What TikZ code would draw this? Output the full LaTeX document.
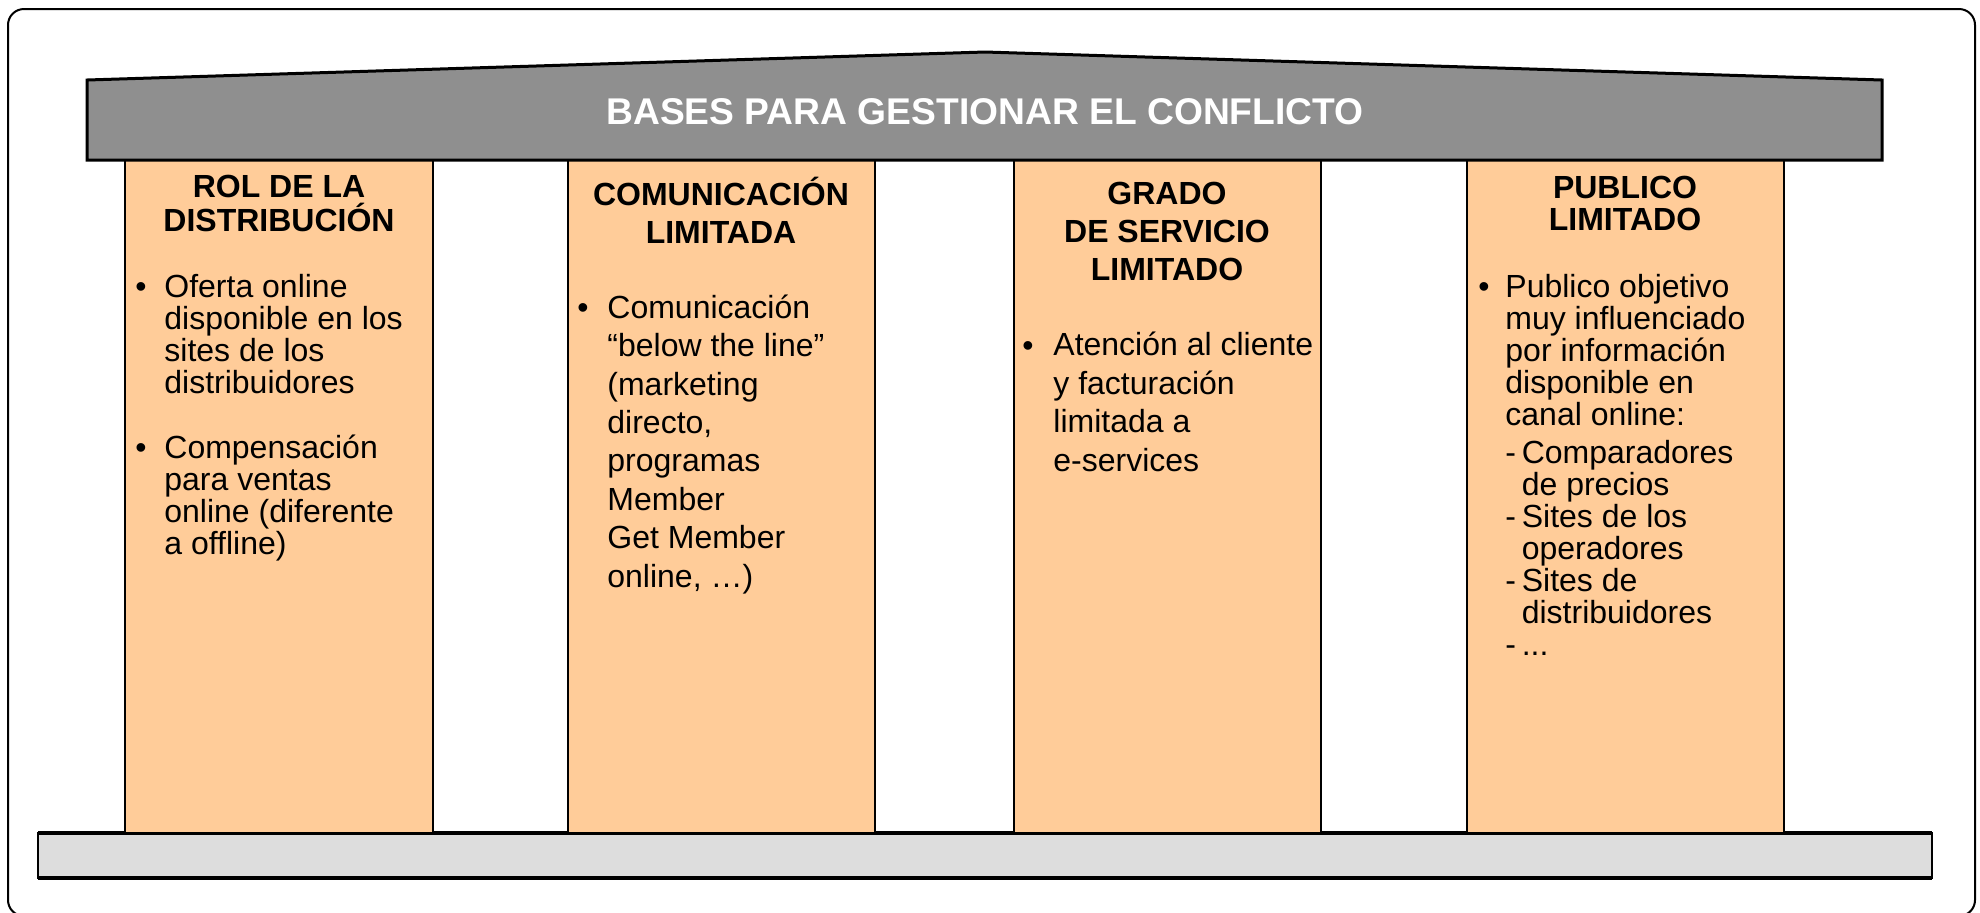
\documentclass[tikz,border=0pt]{standalone}
\usepackage{fontspec}
\setmainfont{Liberation Sans}

\definecolor{dach}{RGB}{143,143,143}
\definecolor{saeule}{RGB}{255,204,153}
\definecolor{sockel}{RGB}{221,221,221}

\newcommand{\strich}{\makebox[8.2pt][l]{-}}

\begin{document}
\begin{tikzpicture}[x=0.5pt,y=-0.5pt]
	\tikzset{pillar/.style = {draw, line width=1pt, fill=saeule}}
	\tikzset{titel/.style = {anchor=base, align=center, inner sep=0pt, font=\bfseries\fontsize{16}{17}\selectfont}}
	\tikzset{punkt/.style = {anchor=base west, inner sep=0pt, font=\fontsize{16}{16}\selectfont}}
	\tikzset{txt/.style = {anchor=base west, align=left, inner sep=0pt, font=\fontsize{16}{16}\selectfont}}
	\tikzset{txtweit/.style = {txt, font=\fontsize{16}{19.2}\selectfont}}
	
	\useasboundingbox (0,0) rectangle (1980,912);
	
	% Rahmen
	\draw[line width=1pt, rounded corners=8pt] (8,9) rectangle (1975,916);
	
	% Sockel
	\draw[line width=0.8pt, fill=sockel] (38,833) rectangle (1932,878);
	\draw[line width=2.2pt] (38,833) -- (1932,833);
	\draw[line width=2.2pt] (38,878) -- (1932,878);
	
	% Saeulen
	\draw[pillar] (125,160) rectangle (433,833);
	\draw[pillar] (568,160) rectangle (875,833);
	\draw[pillar] (1014,160) rectangle (1321,833);
	\draw[pillar] (1467,160) rectangle (1784,833);
	
	% Dach
	\draw[line width=1.5pt, fill=dach] (87,160) -- (87,80) -- (985,52) -- (1882,80) -- (1882,160) -- cycle;
	\node[anchor=base, inner sep=0pt, text=white, font=\bfseries\fontsize{18.6}{20}\selectfont] (dach) at (985,124) {BASES PARA GESTIONAR EL CONFLICTO};
	
	% Rol de la distribucion (Knoten sitzen auf der letzten Grundlinie)
	\node[titel] (rol) at (279,231) {ROL DE LA\\DISTRIBUCIÓN};
	\node[punkt] (rolp1) at (135,297) {\textbullet};
	\node[txt] (roltxt1) at (164,393) {Oferta online\\disponible en los\\sites de los\\distribuidores};
	\node[punkt] (rolp2) at (135,458) {\textbullet};
	\node[txt] (roltxt2) at (164,554) {Compensación\\para ventas\\online (diferente\\a offline)};
	
	% Comunicacion limitada
	\node[titel, font=\bfseries\fontsize{16}{19}\selectfont] (com) at (721,243) {COMUNICACIÓN\\LIMITADA};
	\node[punkt] (comp1) at (577,318) {\textbullet};
	\node[txtweit] (comtxt) at (607,587) {Comunicación\\“below the line”\\(marketing\\directo,\\programas\\Member\\Get Member\\online, …)};
	
	% Grado de servicio limitado
	\node[titel, font=\bfseries\fontsize{16}{19}\selectfont] (grado) at (1167,280) {GRADO\\DE SERVICIO\\LIMITADO};
	\node[punkt] (gradop1) at (1022,356) {\textbullet};
	\node[txtweit] (gradotxt) at (1053,471) {Atención al cliente\\y facturación\\limitada a\\e-services};
	
	% Publico limitado
	\node[titel, font=\bfseries\fontsize{16}{16}\selectfont] (pub) at (1625,230) {PUBLICO\\LIMITADO};
	\node[punkt] (pubp1) at (1478,297) {\textbullet};
	\node[txt] (pubtxt) at (1505,655) {Publico objetivo\\muy influenciado\\por información\\disponible en\\canal online:\\[3pt]
		\strich Comparadores\\\hspace*{8.2pt}de precios\\\strich Sites de los\\\hspace*{8.2pt}operadores\\\strich Sites de\\\hspace*{8.2pt}distribuidores\\\strich ...};
\end{tikzpicture}
\end{document}
